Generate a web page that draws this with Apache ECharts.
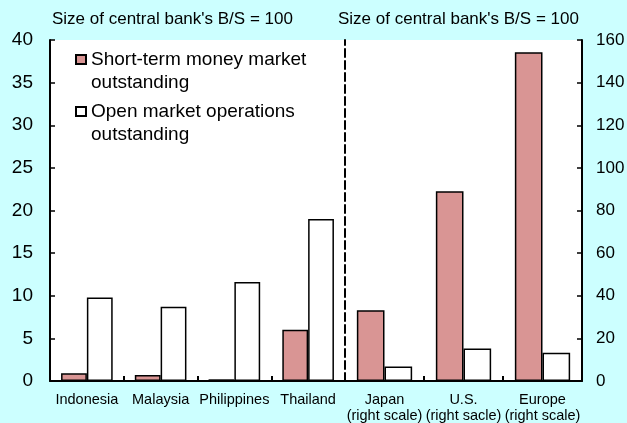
<!DOCTYPE html>
<html>
<head>
<meta charset="utf-8">
<script src="https://cdn.jsdelivr.net/npm/echarts@6/dist/echarts.min.js"></script>
<style>
html, body { margin: 0; padding: 0; background: #ccffff; }
#main { width: 627px; height: 423px; }
</style>
</head>
<body>
<div id="main"></div>
<script>
var asiaCats = ['Indonesia', 'Malaysia', 'Philippines', 'Thailand'];
var asiaShortTerm = [0.9, 0.7, 0.2, 6.0];
var asiaOpenMarket = [9.8, 8.7, 11.6, 19.0];
var advCats = ['Japan\n(right scale)', 'U.S.\n(right sacle)', 'Europe\n(right scale)'];
var advShortTerm = [33.2, 89.0, 154.2];
var advOpenMarket = [6.8, 15.2, 13.2];
var seriesNames = ['Short-term money market\noutstanding', 'Open market operations\noutstanding'];

var myChart = echarts.init(document.getElementById('main'));
var font = 'Liberation Sans, Arial, sans-serif';
var red = '#d99594';

function xAxisOf(grid, data) {
    return {
        type: 'category',
        gridIndex: grid,
        data: data,
        axisLine: { show: true, lineStyle: { color: '#000', width: 2 } },
        axisTick: { show: true, inside: true, length: 5, interval: 0, lineStyle: { color: '#000', width: 2 } },
        axisLabel: { color: '#000', fontSize: 14.5, fontFamily: font, margin: 11, lineHeight: 16, interval: 0 }
    };
}

function legendOf(name, top) {
    return {
        data: [name],
        left: 75,
        top: top,
        padding: 0,
        orient: 'vertical',
        icon: 'rect',
        itemWidth: 10,
        itemHeight: 9,
        itemGap: 0,
        selectedMode: false,
        // leading blank line keeps the first text line level with the icon
        formatter: function(n) { return '\n' + n; },
        textStyle: { color: '#000', fontSize: 19, fontFamily: font, lineHeight: 23 }
    };
}

var option = {
    backgroundColor: '#ccffff',
    animation: false,
    textStyle: { fontFamily: font },
    legend: [legendOf(seriesNames[0], 25), legendOf(seriesNames[1], 77)],
    graphic: [
        { type: 'text', left: 52, top: 11, style: { text: "Size of central bank's B/S = 100", font: '17px ' + font, fill: '#000' } },
        { type: 'text', left: 338, top: 11, style: { text: "Size of central bank's B/S = 100", font: '17px ' + font, fill: '#000' } }
    ],
    grid: [
        { left: 50, right: 282, top: 40, bottom: 42, show: true, backgroundColor: '#fff', borderWidth: 0, outerBoundsMode: 'none', containLabel: false },
        { left: 345, right: 45, top: 40, bottom: 42, show: true, backgroundColor: '#fff', borderWidth: 0, outerBoundsMode: 'none', containLabel: false }
    ],
    xAxis: [xAxisOf(0, asiaCats), xAxisOf(1, advCats)],
    yAxis: [
        {
            type: 'value', gridIndex: 0, position: 'left', min: 0, max: 40, interval: 5,
            axisLine: { show: true, lineStyle: { color: '#000', width: 2 } },
            axisTick: { show: true, inside: true, length: 5, lineStyle: { color: '#000', width: 1.5 } },
            axisLabel: { color: '#000', fontSize: 19, fontFamily: font, margin: 17 },
            splitLine: { show: false }
        },
        {
            type: 'value', gridIndex: 1, position: 'right', min: 0, max: 160, interval: 20,
            axisLine: { show: true, lineStyle: { color: '#000', width: 2 } },
            axisTick: { show: true, inside: true, length: 5, lineStyle: { color: '#000', width: 1.5 } },
            axisLabel: { color: '#000', fontSize: 17, fontFamily: font, margin: 14 },
            splitLine: { show: false }
        },
        {
            type: 'value', gridIndex: 1, position: 'left', min: 0, max: 160, interval: 20,
            axisLine: { show: true, lineStyle: { color: '#000', width: 2, type: [8, 4] } },
            axisTick: { show: false },
            axisLabel: { show: false },
            splitLine: { show: false }
        }
    ],
    series: [
        {
            name: seriesNames[0], type: 'bar', xAxisIndex: 0, yAxisIndex: 0, data: asiaShortTerm,
            barGap: '0%', barCategoryGap: '30%',
            itemStyle: { color: red, borderColor: '#000', borderWidth: 1.5 }
        },
        {
            name: seriesNames[1], type: 'bar', xAxisIndex: 0, yAxisIndex: 0, data: asiaOpenMarket,
            barGap: '0%', barCategoryGap: '30%',
            itemStyle: { color: '#fff', borderColor: '#000', borderWidth: 1.5 }
        },
        {
            name: seriesNames[0], type: 'bar', xAxisIndex: 1, yAxisIndex: 1, data: advShortTerm,
            barGap: '0%', barCategoryGap: '30%',
            itemStyle: { color: red, borderColor: '#000', borderWidth: 1.5 }
        },
        {
            name: seriesNames[1], type: 'bar', xAxisIndex: 1, yAxisIndex: 1, data: advOpenMarket,
            barGap: '0%', barCategoryGap: '30%',
            itemStyle: { color: '#fff', borderColor: '#000', borderWidth: 1.5 }
        }
    ]
};
myChart.setOption(option);

window.onresize = function() {
    myChart.resize();
};
</script>
</body>
</html>
